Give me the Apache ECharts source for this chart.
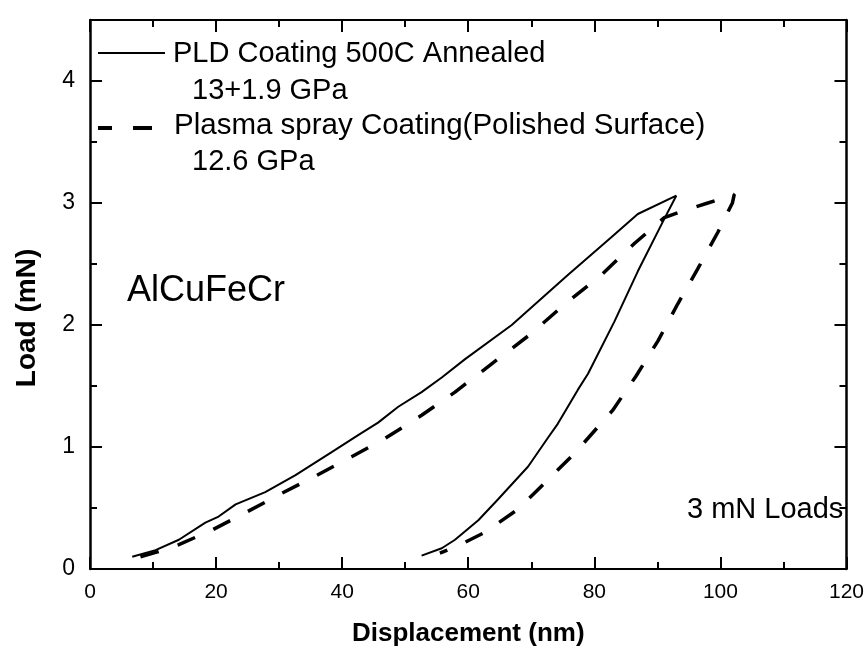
<!DOCTYPE html>
<html>
<head>
<meta charset="utf-8">
<script src="https://cdn.jsdelivr.net/npm/echarts@6/dist/echarts.min.js"></script>
<style>
html,body{margin:0;padding:0;background:#fff;}
#chart{width:867px;height:652px;}
</style>
</head>
<body>
<div id="chart"></div>
<script>
// PLD Coating 500C Annealed (solid): loading then unloading
const pldDisp = [6.7, 10.4, 14.1, 18.3, 20.4, 23.1, 27.8, 32.6, 38.4, 42.6, 45.7, 48.9, 52.6, 55.8, 59.5, 66.9, 75.8, 82.7, 86.9, 93.0,
                 91.1, 86.9, 83.2, 79.0, 77.4, 75.8, 74.2, 72.7, 69.5, 64.7, 61.6, 57.9, 55.8, 52.6];
const pldLoad = [0.10, 0.155, 0.24, 0.38, 0.43, 0.53, 0.63, 0.77, 0.96, 1.10, 1.20, 1.33, 1.45, 1.57, 1.72, 2.00, 2.41, 2.72, 2.91, 3.06,
                 2.87, 2.44, 2.03, 1.60, 1.47, 1.33, 1.19, 1.08, 0.84, 0.57, 0.40, 0.24, 0.17, 0.11];
// Plasma spray Coating (dashed): loading then unloading
const psDisp = [8.0, 10.7, 14.1, 19.4, 24.6, 30.4, 35.7, 41.5, 46.8, 52.6, 57.9, 64.7, 70.0, 75.3, 81.1, 86.4, 91.1, 93.2, 98.0, 102.2,
                101.9, 99.6, 96.4, 93.2, 90.1, 86.6, 82.9, 76.9, 73.2, 67.9, 62.6, 58.4, 55.5];
const psLoad = [0.10, 0.14, 0.20, 0.32, 0.46, 0.62, 0.76, 0.92, 1.07, 1.26, 1.45, 1.72, 1.93, 2.17, 2.41, 2.67, 2.88, 2.92, 3.00, 3.07,
                3.00, 2.76, 2.46, 2.17, 1.87, 1.58, 1.30, 0.95, 0.76, 0.49, 0.30, 0.19, 0.13];
const xTicks = [0, 20, 40, 60, 80, 100, 120];
const yTicks = [0, 1, 2, 3, 4];

const pair = (xs, ys) => xs.map((x, i) => [x, ys[i]]);
const FONT = '"Liberation Sans", Arial, Helvetica, sans-serif';

const chart = echarts.init(document.getElementById('chart'), null, {renderer: 'canvas'});

function xAx(pos, labels) {
  return {
    type: 'value', position: pos, min: xTicks[0], max: xTicks[xTicks.length - 1], interval: xTicks[1] - xTicks[0],
    axisLine: {show: true, onZero: false, lineStyle: {color: '#000', width: 2}},
    axisTick: {show: true, inside: true, length: 12, lineStyle: {color: '#000', width: 2}},
    minorTick: {show: true, splitNumber: 2, length: 7, lineStyle: {color: '#000', width: 2}},
    splitLine: {show: false},
    axisLabel: {show: labels, color: '#000', fontSize: 21, fontFamily: FONT, margin: 13},
    name: labels ? 'Displacement (nm)' : '',
    nameLocation: 'middle', nameGap: 52,
    nameTextStyle: {color: '#000', fontSize: 26, fontWeight: 'bold', fontFamily: FONT}
  };
}
function yAx(pos, labels) {
  return {
    type: 'value', position: pos, min: yTicks[0], max: 4.5, interval: yTicks[1] - yTicks[0],
    axisLine: {show: true, onZero: false, lineStyle: {color: '#000', width: 2.5}},
    axisTick: {show: true, inside: true, length: 12, lineStyle: {color: '#000', width: 2}},
    minorTick: {show: true, splitNumber: 2, length: 7, lineStyle: {color: '#000', width: 2}},
    splitLine: {show: false},
    axisLabel: {show: labels, color: '#000', fontSize: 23, fontFamily: FONT, margin: 15, showMaxLabel: false}
  };
}

const option = {
  backgroundColor: '#fff',
  animation: false,
  grid: {left: 90, right: 19, top: 20, bottom: 79},
  xAxis: [xAx('bottom', true), xAx('top', false)],
  yAxis: [yAx('left', true), yAx('right', false)],
  series: [
    {
      name: 'PLD Coating 500C Annealed', type: 'line', xAxisIndex: 0, yAxisIndex: 0,
      data: pair(pldDisp, pldLoad), showSymbol: false, symbol: 'none',
      lineStyle: {color: '#000', width: 2}
    },
    {
      name: 'Plasma spray Coating(Polished Surface)', type: 'line', xAxisIndex: 0, yAxisIndex: 0,
      data: pair(psDisp, psLoad), showSymbol: false, symbol: 'none',
      lineStyle: {color: '#000', width: 3.5, type: [19, 20]}
    }
  ],
  graphic: [
    {type: 'line', shape: {x1: 98, y1: 53, x2: 165, y2: 53}, style: {stroke: '#000', lineWidth: 2}},
    {type: 'line', shape: {x1: 98, y1: 128, x2: 112, y2: 128}, style: {stroke: '#000', lineWidth: 4}},
    {type: 'line', shape: {x1: 133, y1: 128, x2: 152, y2: 128}, style: {stroke: '#000', lineWidth: 4}},
    {type: 'text', left: 173, top: 55 - 16, style: {text: 'PLD Coating 500C Annealed', fill: '#000', font: '29px ' + FONT}},
    {type: 'text', left: 192, top: 92 - 16, style: {text: '13+1.9 GPa', fill: '#000', font: '29px ' + FONT}},
    {type: 'text', left: 174, top: 127 - 16, style: {text: 'Plasma spray Coating(Polished Surface)', fill: '#000', font: '29.5px ' + FONT}},
    {type: 'text', left: 192, top: 163 - 16, style: {text: '12.6 GPa', fill: '#000', font: '29px ' + FONT}},
    {type: 'text', left: 127, top: 293 - 20, style: {text: 'AlCuFeCr', fill: '#000', font: '36px ' + FONT}},
    {type: 'text', left: 687, top: 511 - 16, style: {text: '3 mN Loads', fill: '#000', font: '29px ' + FONT}},
    {type: 'text', x: 27, y: 318, rotation: Math.PI / 2,
     style: {text: 'Load (mN)', fill: '#000', font: 'bold 28px ' + FONT, textAlign: 'center', textVerticalAlign: 'middle'}}
  ]
};
chart.setOption(option);
</script>
</body>
</html>
